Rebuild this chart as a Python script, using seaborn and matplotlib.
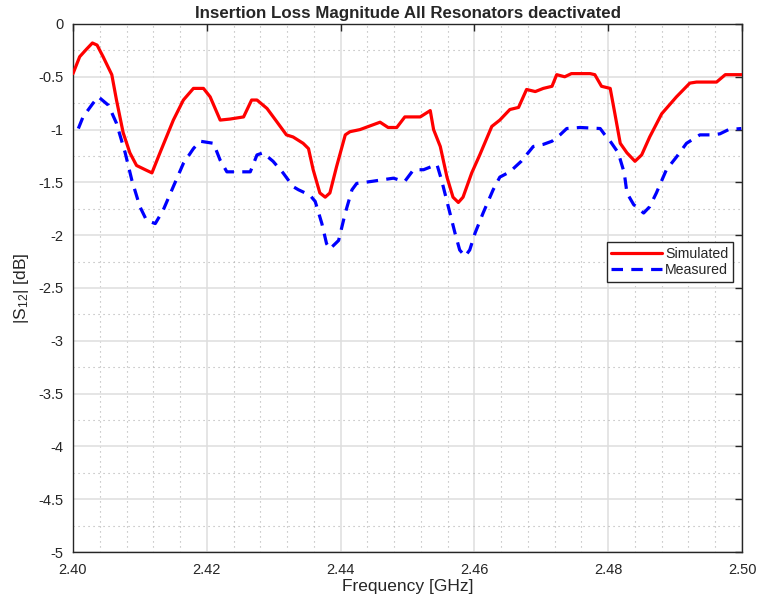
import numpy as np
import pandas as pd
import matplotlib
matplotlib.use("Agg")
import matplotlib.pyplot as plt
from matplotlib.ticker import MultipleLocator, FuncFormatter
import seaborn as sns

# Simulated insertion loss |S12| (dB) vs frequency (GHz)
sim_freq = [2.4000, 2.4010, 2.4020, 2.4029, 2.4036, 2.4045, 2.4058, 2.4065, 2.4075, 2.4085,
            2.4095, 2.4108, 2.4118, 2.4130, 2.4150, 2.4165, 2.4180, 2.4195, 2.4205, 2.4220,
            2.4235, 2.4255, 2.4267, 2.4275, 2.4290, 2.4304, 2.4319, 2.4329, 2.4344, 2.4352,
            2.4359, 2.4369, 2.4377, 2.4384, 2.4394, 2.4407, 2.4414, 2.4429, 2.4459, 2.4471,
            2.4484, 2.4496, 2.4519, 2.4534, 2.4539, 2.4549, 2.4559, 2.4568, 2.4576, 2.4583,
            2.4596, 2.4608, 2.4626, 2.4638, 2.4653, 2.4666, 2.4678, 2.4691, 2.4703, 2.4716,
            2.4723, 2.4735, 2.4745, 2.4773, 2.4780, 2.4790, 2.4803, 2.4810, 2.4818, 2.4828,
            2.4840, 2.4850, 2.4862, 2.4880, 2.4902, 2.4922, 2.4932, 2.4962, 2.4975, 2.5000]
sim_db = [-0.47, -0.31, -0.24, -0.18, -0.20, -0.31, -0.48, -0.72, -1.03, -1.22,
          -1.34, -1.38, -1.41, -1.22, -0.91, -0.72, -0.61, -0.61, -0.69, -0.91,
          -0.90, -0.88, -0.72, -0.72, -0.80, -0.92, -1.05, -1.07, -1.13, -1.18,
          -1.38, -1.60, -1.64, -1.60, -1.35, -1.05, -1.02, -1.00, -0.93, -0.98,
          -0.98, -0.88, -0.88, -0.82, -1.00, -1.16, -1.45, -1.64, -1.69, -1.64,
          -1.41, -1.24, -0.97, -0.91, -0.81, -0.79, -0.62, -0.64, -0.61, -0.59,
          -0.48, -0.50, -0.47, -0.47, -0.48, -0.59, -0.61, -0.85, -1.13, -1.22,
          -1.30, -1.24, -1.07, -0.85, -0.69, -0.56, -0.55, -0.55, -0.48, -0.48]

# Measured insertion loss |S12| (dB) vs frequency (GHz)
meas_freq = [2.4008, 2.4015, 2.4030, 2.4038, 2.4053, 2.4065, 2.4078, 2.4088, 2.4100, 2.4110,
             2.4123, 2.4135, 2.4152, 2.4165, 2.4180, 2.4190, 2.4210, 2.4220, 2.4230, 2.4265,
             2.4275, 2.4284, 2.4299, 2.4314, 2.4329, 2.4337, 2.4354, 2.4362, 2.4372, 2.4379,
             2.4384, 2.4397, 2.4407, 2.4417, 2.4424, 2.4447, 2.4479, 2.4489, 2.4496, 2.4509,
             2.4524, 2.4544, 2.4551, 2.4561, 2.4571, 2.4578, 2.4586, 2.4593, 2.4601, 2.4613,
             2.4628, 2.4638, 2.4653, 2.4670, 2.4688, 2.4703, 2.4716, 2.4728, 2.4738, 2.4758,
             2.4788, 2.4795, 2.4803, 2.4815, 2.4824, 2.4828, 2.4838, 2.4853, 2.4862, 2.4872,
             2.4887, 2.4902, 2.4917, 2.4937, 2.4957, 2.4967, 2.4980, 2.4999]
meas_db = [-0.99, -0.88, -0.75, -0.69, -0.77, -0.94, -1.22, -1.48, -1.73, -1.86,
           -1.89, -1.76, -1.51, -1.32, -1.18, -1.11, -1.13, -1.29, -1.40, -1.40,
           -1.24, -1.22, -1.30, -1.41, -1.54, -1.57, -1.62, -1.68, -1.89, -2.08,
           -2.13, -2.05, -1.79, -1.57, -1.51, -1.49, -1.46, -1.48, -1.49, -1.38,
           -1.38, -1.33, -1.48, -1.73, -1.98, -2.14, -2.20, -2.14, -1.98, -1.79,
           -1.57, -1.45, -1.40, -1.30, -1.16, -1.14, -1.11, -1.05, -0.99, -0.98,
           -0.99, -1.05, -1.11, -1.22, -1.41, -1.60, -1.71, -1.79, -1.73, -1.60,
           -1.38, -1.26, -1.13, -1.05, -1.05, -1.04, -1.00, -0.99]

x_ticks = [2.40, 2.42, 2.44, 2.46, 2.48, 2.50]
y_ticks = [0, -0.5, -1, -1.5, -2, -2.5, -3, -3.5, -4, -4.5, -5]

sns.set_style("white")
plt.rcParams["font.family"] = ["Liberation Sans", "DejaVu Sans"]
plt.rcParams["mathtext.default"] = "regular"
plt.rcParams["axes.unicode_minus"] = False

fig = plt.figure(figsize=(7.58, 6.01), dpi=100)
ax = fig.add_axes([0.0963, 0.0815, 0.9789 - 0.0963, 0.9601 - 0.0815])

sim_df = pd.DataFrame({"f": sim_freq, "s": sim_db})
meas_df = pd.DataFrame({"f": meas_freq, "s": meas_db})

sns.lineplot(data=sim_df, x="f", y="s", ax=ax, color="#ff0000", linewidth=2.3,
             sort=False, estimator=None, label="Simulated", zorder=3)
sns.lineplot(data=meas_df, x="f", y="s", ax=ax, color="#0000ff", linewidth=2.3,
             sort=False, estimator=None, label="Measured", zorder=3,
             dashes=False)
ax.lines[1].set_dashes([3.6, 2.6])
for ln in ax.lines[:2]:
    ln.set_solid_joinstyle("round")
    ln.set_dash_joinstyle("round")

ax.set_xlim(2.40, 2.50)
ax.set_ylim(-5, 0)
ax.set_xticks(x_ticks)
ax.set_yticks(y_ticks)
ax.xaxis.set_minor_locator(MultipleLocator(0.004))
ax.yaxis.set_minor_locator(MultipleLocator(0.25))
ax.xaxis.set_major_formatter(FuncFormatter(lambda v, p: f"{v:.2f}"))
ax.yaxis.set_major_formatter(FuncFormatter(lambda v, p: f"{v:g}"))

ax.grid(which="major", color="#dedede", linewidth=1.1, linestyle="-")
ax.grid(which="minor", color="#b0b0b0", linewidth=0.8, linestyle=(0, (1, 3.5)))
ax.set_axisbelow(True)

ax.tick_params(which="major", direction="in", length=5, width=1, top=True, right=True,
               labelsize=10.5, colors="#262626")
ax.tick_params(axis="x", which="major", pad=8)
ax.tick_params(axis="y", which="major", pad=7)
ax.tick_params(which="minor", length=0, top=True, right=True)
for sp in ax.spines.values():
    sp.set_color("#262626")
    sp.set_linewidth(1.0)

ax.set_xlabel("Frequency [GHz]", fontsize=12.5, color="#262626", labelpad=1)
ax.set_ylabel("|S$_{12}$| [dB]", fontsize=12.5, color="#262626", labelpad=5)
ax.set_title("Insertion Loss Magnitude All Resonators deactivated",
             fontsize=12.2, fontweight="bold", pad=4)

leg = ax.legend(loc="upper right", bbox_to_anchor=(0.986, 0.5866), fontsize=10.2,
                frameon=True, fancybox=False, framealpha=1, edgecolor="#262626",
                handlelength=3.6, handletextpad=0.2, borderpad=0.3,
                labelspacing=0.2, borderaxespad=0)
leg.get_frame().set_linewidth(1.0)

fig.savefig("out.png", dpi=100, facecolor="white")
